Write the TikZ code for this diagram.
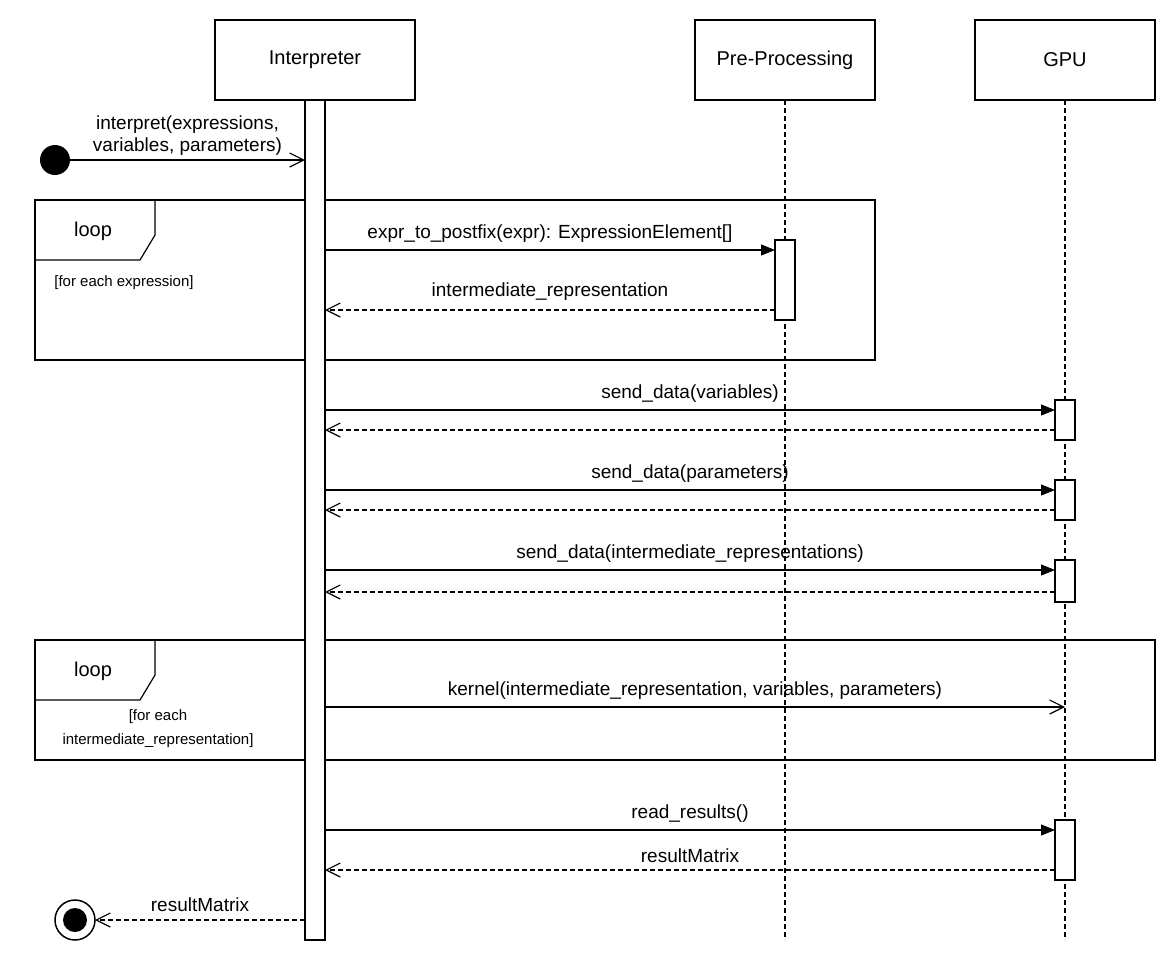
\documentclass[tikz,border=0pt]{standalone}
\usepackage{fontspec}
\setmainfont{Liberation Sans}
\usetikzlibrary{arrows.meta}
\begin{document}
\begin{tikzpicture}[x=1pt,y=-1pt,
  box/.style={draw,line width=1.2pt,fill=white},
  lbl/.style={font=\fontsize{19}{22}\selectfont,inner sep=0pt},
  small/.style={font=\fontsize{15}{24}\selectfont,inner sep=0pt,align=center},
  call/.style={line width=1.2pt,-{Triangle[length=14pt,width=11pt]}},
  ret/.style={line width=1.2pt,dashed,dash pattern=on 5pt off 3pt,-{Straight Barb[length=14pt,width=14pt]}},
  async/.style={line width=1.2pt,-{Straight Barb[length=14pt,width=14pt]}},
  life/.style={line width=1.2pt,dash pattern=on 5pt off 3pt}]
\useasboundingbox (0,0) rectangle (1176,964);
% lifelines
\draw[life] (785,100) -- (785,940);
\draw[life] (1065,100) -- (1065,940);
% headers
\node[box,lbl,minimum width=200pt,minimum height=80pt,font=\fontsize{20}{24}\selectfont] (interp) at (315,60) {Interpreter};
\node[box,lbl,minimum width=180pt,minimum height=80pt,font=\fontsize{20}{24}\selectfont] (pre) at (785,60) {Pre-Processing};
\node[box,lbl,minimum width=180pt,minimum height=80pt,font=\fontsize{20}{24}\selectfont] (gpu) at (1065,60) {GPU};
% loop frames
\draw[line width=1.2pt] (35,200) rectangle (875,360);
\draw[line width=1.2pt] (35,260) -- (140,260) -- (155,235) -- (155,200);
\node[lbl,font=\fontsize{20}{24}\selectfont] (loop1) at (93,231) {loop};
\node[small] (g1) at (124,283) {[for each expression]};
\draw[line width=1.2pt] (35,640) rectangle (1155,760);
\draw[line width=1.2pt] (35,700) -- (140,700) -- (155,675) -- (155,640);
\node[lbl,font=\fontsize{20}{24}\selectfont] (loop2) at (93,671) {loop};
\node[small] (g2) at (158,729) {[for each\\intermediate\_representation]};
% activations
\draw[box] (305,100) rectangle (325,940);
\node[box,minimum width=20pt,minimum height=80pt,inner sep=0pt] (a1) at (785,280) {};
\node[box,minimum width=20pt,minimum height=40pt,inner sep=0pt] (g1a) at (1065,420) {};
\node[box,minimum width=20pt,minimum height=40pt,inner sep=0pt] (g2a) at (1065,500) {};
\node[box,minimum width=20pt,minimum height=42pt,inner sep=0pt] (g3a) at (1065,581) {};
\node[box,minimum width=20pt,minimum height=60pt,inner sep=0pt] (g4a) at (1065,850) {};
% start / end
\fill (55,160) circle (15);
\coordinate (s) at (55,160);
\coordinate (e) at (95,920);
\draw[line width=1.5pt] (75,920) circle (20);
\fill (75,920) circle (12);
% messages
\draw[async] (s) -- (305,160) node[pos=0.53,above=4pt,lbl,align=center] {interpret(expressions,\\variables, parameters)};
\draw[call] (325,250) -- (775,250) node[midway,above=7pt,lbl] {expr\_to\_postfix(expr): ExpressionElement[]};
\draw[ret] (775,310) -- (325,310) node[midway,above=9pt,lbl] {intermediate\_representation};
\draw[call] (325,410) -- (1055,410) node[midway,above=7pt,lbl] {send\_data(variables)};
\draw[ret] (1055,430) -- (325,430);
\draw[call] (325,490) -- (1055,490) node[midway,above=7pt,lbl] {send\_data(parameters)};
\draw[ret] (1055,510) -- (325,510);
\draw[call] (325,570) -- (1055,570) node[midway,above=7pt,lbl] {send\_data(intermediate\_representations)};
\draw[ret] (1055,592) -- (325,592);
\draw[async] (325,707) -- (1065,707) node[midway,above=7pt,lbl] {kernel(intermediate\_representation, variables, parameters)};
\draw[call] (325,830) -- (1055,830) node[midway,above=7pt,lbl] {read\_results()};
\draw[ret] (1055,870) -- (325,870) node[midway,above=7pt,lbl] {resultMatrix};
\draw[ret] (305,920) -- (e) node[midway,above=8pt,lbl] {resultMatrix};
\end{tikzpicture}
\end{document}
